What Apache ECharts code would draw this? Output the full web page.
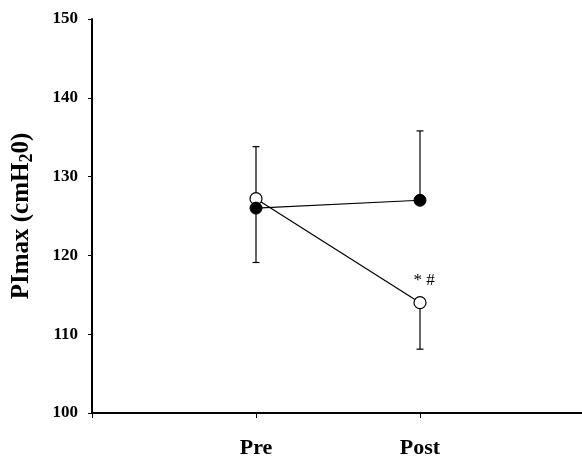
<!DOCTYPE html>
<html>
<head>
<meta charset="utf-8">
<script src="https://cdn.jsdelivr.net/npm/echarts@6/dist/echarts.min.js"></script>
<style>
html,body{margin:0;padding:0;background:#fff;}
#chart{width:582px;height:457px;}
</style>
</head>
<body>
<div id="chart"></div>
<script>
var categories = ['Pre', 'Post'];
var yTicks = [100, 110, 120, 130, 140, 150];
var filledMean = [126.0, 127.0];
var openMean = [127.2, 114.0];
// error bar bounds [lower, upper]; null = not drawn
var filledLower = [119.1, null];
var filledUpper = [133.8, 135.8];
var openLower = [null, 108.1];
var openUpper = [null, null];
var annotationText = ['', '* #'];

var font = '"Liberation Serif", "Times New Roman", serif';

function toXY(vals) {
  return vals.map(function (v, i) { return [i + 1, v]; });
}
function errData(mean, lower, upper) {
  var out = [];
  mean.forEach(function (m, i) {
    var lo = lower[i] == null ? m : lower[i];
    var hi = upper[i] == null ? m : upper[i];
    out.push([i + 1, lo, hi, lower[i] == null ? 0 : 1, upper[i] == null ? 0 : 1]);
  });
  return out;
}
function renderErr(params, api) {
  var x = api.value(0);
  var lo = api.coord([x, api.value(1)]);
  var hi = api.coord([x, api.value(2)]);
  var hasLo = api.value(3), hasHi = api.value(4);
  var cap = 3.5;
  var st = { stroke: '#000', lineWidth: 1.2 };
  var children = [{ type: 'line', shape: { x1: lo[0], y1: lo[1], x2: hi[0], y2: hi[1] }, style: st }];
  if (hasLo) children.push({ type: 'line', shape: { x1: lo[0] - cap, y1: lo[1], x2: lo[0] + cap, y2: lo[1] }, style: st });
  if (hasHi) children.push({ type: 'line', shape: { x1: hi[0] - cap, y1: hi[1], x2: hi[0] + cap, y2: hi[1] }, style: st });
  return { type: 'group', children: children };
}

var chart = echarts.init(document.getElementById('chart'));
chart.setOption({
  animation: false,
  backgroundColor: '#fff',
  grid: { left: 92, top: 19, width: 492, height: 394, containLabel: false, outerBoundsMode: 'none' },
  xAxis: {
    type: 'value', min: 0, max: 3, interval: 1,
    axisLine: { lineStyle: { color: '#000', width: 2 } },
    axisTick: { show: true, length: 5, lineStyle: { color: '#000', width: 1 } },
    splitLine: { show: false },
    axisLabel: {
      margin: 24,
      fontFamily: font, fontWeight: 'bold', fontSize: 22, color: '#000',
      formatter: function (v) { return categories[v - 1] || ''; }
    }
  },
  yAxis: {
    type: 'value', min: yTicks[0], max: yTicks[yTicks.length - 1], interval: 10,
    axisLine: { show: true, lineStyle: { color: '#000', width: 2 } },
    axisTick: { show: true, length: 4, lineStyle: { color: '#000', width: 1 } },
    splitLine: { show: false },
    axisLabel: { margin: 14, fontFamily: font, fontWeight: 'bold', fontSize: 17, color: '#000' },
    name: '{a|PImax (cmH}{s|2}{a|0)}',
    nameLocation: 'middle',
    nameRotate: 90,
    nameGap: 55,
    nameTextStyle: {
      rich: {
        a: { fontFamily: font, fontWeight: 'bold', fontSize: 25, color: '#000', lineHeight: 30 },
        s: { fontFamily: font, fontWeight: 'bold', fontSize: 18, color: '#000', lineHeight: 30, padding: [10, 0, 0, 0] }
      }
    }
  },
  series: [
    {
      type: 'custom', renderItem: renderErr, data: errData(openMean, openLower, openUpper), z: 1, silent: true
    },
    {
      type: 'custom', renderItem: renderErr, data: errData(filledMean, filledLower, filledUpper), z: 1, silent: true
    },
    {
      type: 'line', name: 'open', z: 2,
      data: toXY(openMean).map(function (d, i) {
        return {
          value: d,
          label: {
            show: !!annotationText[i], formatter: annotationText[i], position: 'top',
            distance: 7, offset: [4, 0], fontFamily: font, fontSize: 17, color: '#000'
          }
        };
      }),
      symbol: 'circle', symbolSize: 12, showAllSymbol: true,
      lineStyle: { color: '#000', width: 1.2 },
      itemStyle: { color: '#fff', borderColor: '#000', borderWidth: 1.2 }
    },
    {
      type: 'line', name: 'filled', z: 3,
      data: toXY(filledMean),
      symbol: 'circle', symbolSize: 12,
      lineStyle: { color: '#000', width: 1.2 },
      itemStyle: { color: '#000', borderColor: '#000', borderWidth: 1 }
    }
  ]
});
</script>
</body>
</html>
